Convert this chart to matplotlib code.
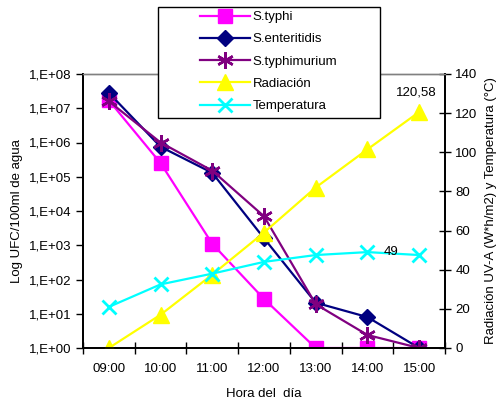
import matplotlib.pyplot as plt
import numpy as np
from matplotlib.patches import Rectangle
from matplotlib.ticker import FixedLocator, FuncFormatter

plt.rcParams["font.family"] = ["Liberation Sans", "DejaVu Sans"]
plt.rcParams["font.size"] = 9.5

# hourly samples
horas = ["09:00", "10:00", "11:00", "12:00", "13:00", "14:00", "15:00"]

# bacterial counts (UFC/100 ml)
s_typhi = [1.7e7, 2.5e5, 1.1e3, 27, 1, 1, 1]
s_enteritidis = [2.8e7, 7.5e5, 1.3e5, 1.6e3, 21, 8, 1]
s_typhimurium = [1.6e7, 1.0e6, 1.5e5, 7.0e3, 19, 2.4, 1]

# UV-A radiation (W*h/m2) and water temperature (°C)
radiacion = [0, 17, 37.5, 59, 82, 101.5, 120.58]
temperatura = [21, 32.5, 38, 44, 47.5, 49, 47.5]

x = np.arange(len(horas))
W, H = 497, 400

fig = plt.figure(figsize=(W / 100, H / 100), dpi=100)
ax = fig.add_axes([83 / W, 52 / H, 362 / W, 274 / H])
ax2 = ax.twinx()

lw = 1.6
h1, = ax.plot(x, s_typhi, color="#FF00FF", lw=lw, marker="s", ms=10,
              label="S.typhi")
h2, = ax.plot(x, s_enteritidis, color="#000080", lw=lw, marker="D", ms=8,
              label="S.enteritidis")
h3, = ax.plot(x, s_typhimurium, color="#800080", lw=lw, marker=(6, 2, 0),
              ms=12, mew=1.8, label="S.typhimurium")
h4, = ax2.plot(x, radiacion, color="#FFFF00", lw=lw, marker="^", ms=12,
               label="Radiación")
h5, = ax2.plot(x, temperatura, color="#00FFFF", lw=lw, marker="x", ms=10,
               mew=2, label="Temperatura")

# left axis: log counts
ax.set_yscale("log")
ax.set_ylim(1, 1e8)
ax.yaxis.set_major_locator(FixedLocator([10.0 ** k for k in range(9)]))
ax.yaxis.set_minor_locator(FixedLocator([]))
ax.yaxis.set_major_formatter(
    FuncFormatter(lambda v, p: "1,E+%02d" % int(round(np.log10(v)))))
ax.set_ylabel("Log UFC/100ml de agua", labelpad=4)

# category axis with ticks between categories
ax.set_xlim(-0.5, len(horas) - 0.5)
ax.set_xticks(x)
ax.set_xticklabels(horas)
ax.set_xticks(np.arange(-0.5, len(horas)), minor=True)
ax.tick_params(axis="x", which="major", length=0, pad=11)
ax.tick_params(axis="x", which="minor", direction="inout", length=8, width=1)
ax.tick_params(axis="y", direction="out", length=5, width=1)
ax.set_xlabel("Hora del  día", labelpad=9)

# right axis: radiation and temperature
ax2.set_ylim(0, 140)
ax2.set_yticks(np.arange(0, 141, 20))
ax2.tick_params(axis="y", direction="inout", length=8, width=1)
ax2.set_ylabel("Radiación UV-A (W*h/m2) y Temperatura (°C)", labelpad=5)

for a in (ax, ax2):
    for s in ("left", "right", "bottom"):
        a.spines[s].set_color("black")
        a.spines[s].set_linewidth(1.3)
    a.spines["top"].set_color("#808080")
    a.spines["top"].set_linewidth(1)

ax2.annotate("120,58", (x[-1], radiacion[-1]), xytext=(-2, 10),
             textcoords="offset points", ha="center", va="bottom")
ax2.annotate("49", (x[5], temperatura[5]), xytext=(17, 0),
             textcoords="offset points", ha="center", va="center")

# legend box drawn separately, entries placed inside it
fig.add_artist(Rectangle((158 / W, 1 - 118 / H), 222 / W, 111 / H,
                         transform=fig.transFigure, facecolor="white",
                         edgecolor="black", lw=1, zorder=5))
leg = fig.legend(handles=[h1, h2, h3, h4, h5], loc="upper left",
                 bbox_to_anchor=(200 / W, 1 - 11 / H), frameon=False,
                 handlelength=3.8, labelspacing=0.76, borderpad=0,
                 borderaxespad=0, handletextpad=0.2)
leg.set_zorder(6)

fig.savefig("out.png", dpi=100)
